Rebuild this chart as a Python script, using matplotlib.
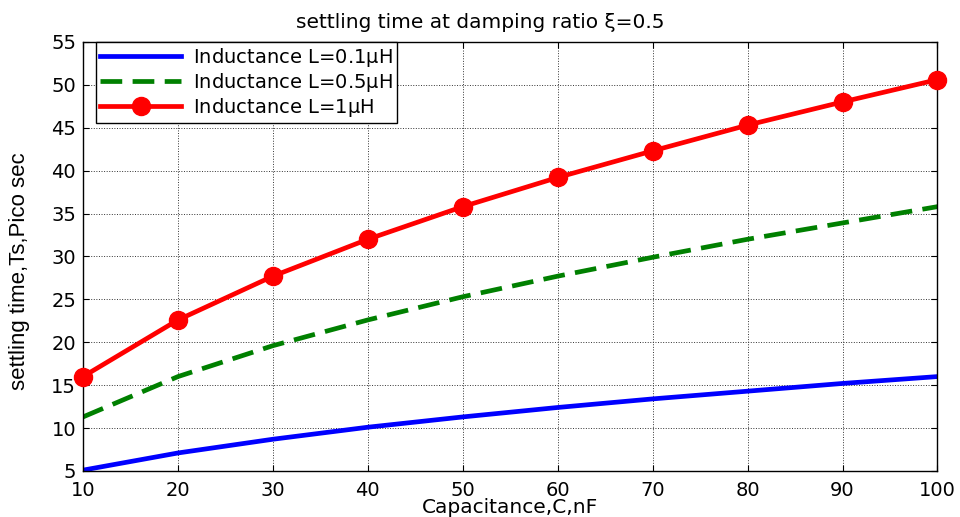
import matplotlib.pyplot as plt
import numpy as np

plt.rcParams['font.family'] = ['DejaVu Sans']

# capacitance (nF)
cap = [10, 20, 30, 40, 50, 60, 70, 80, 90, 100]
# settling time (ps) for each inductance
ts_01 = [5.1, 7.1, 8.7, 10.1, 11.3, 12.4, 13.4, 14.3, 15.2, 16.0]
ts_05 = [11.3, 16.0, 19.6, 22.6, 25.3, 27.7, 29.9, 32.0, 33.9, 35.8]
ts_1 = [16.0, 22.6, 27.7, 32.0, 35.8, 39.2, 42.3, 45.3, 48.0, 50.6]

xticks = [10, 20, 30, 40, 50, 60, 70, 80, 90, 100]
yticks = [5, 10, 15, 20, 25, 30, 35, 40, 45, 50, 55]

fig = plt.figure(figsize=(9.6, 5.17), dpi=100)
ax = fig.add_axes([0.0865, 0.089, 0.89, 0.83])

ax.plot(cap, ts_01, color='#0000ff', lw=3.4, label=r'Inductance L=0.1$\mathregular{\mu}$H')
ax.plot(cap, ts_05, color='#008000', lw=3.4, ls=(0, (4.6, 2.2)), label=r'Inductance L=0.5$\mathregular{\mu}$H')
ax.plot(cap, ts_1, color='#ff0000', lw=3.4, marker='o', ms=13, mfc='#ff0000', mec='#ff0000',
        label=r'Inductance L=1$\mathregular{\mu}$H', clip_on=False, zorder=5)

ax.set_xlim(10, 100)
ax.set_ylim(5, 55)
ax.set_xticks(xticks)
ax.set_yticks(yticks)
ax.tick_params(direction='in', top=True, right=True, length=4, labelsize=14)
ax.tick_params(axis='x', pad=7)
ax.tick_params(axis='y', pad=5)
ax.grid(True, color='#333333', ls=':', lw=0.7)
for s in ax.spines.values():
    s.set_linewidth(1.0)

ax.set_title('settling time at damping ratio ξ=0.5', fontsize=14.5, pad=10, x=0.465)
ax.set_xlabel('Capacitance,C,nF', fontsize=14.5, labelpad=-1)
ax.set_ylabel('settling time,Ts,Pico sec', fontsize=16,
              family=['Liberation Sans'])
ax.yaxis.set_label_coords(-0.062, 0.465)

leg = ax.legend(loc='upper left', bbox_to_anchor=(0.015, 1.0), fontsize=14,
                handlelength=4.2, borderaxespad=0.0, fancybox=False, framealpha=1,
                edgecolor='black', borderpad=0.2, labelspacing=0.1, handletextpad=0.6)
leg.get_frame().set_linewidth(1.0)

fig.savefig('out.png', dpi=100)
